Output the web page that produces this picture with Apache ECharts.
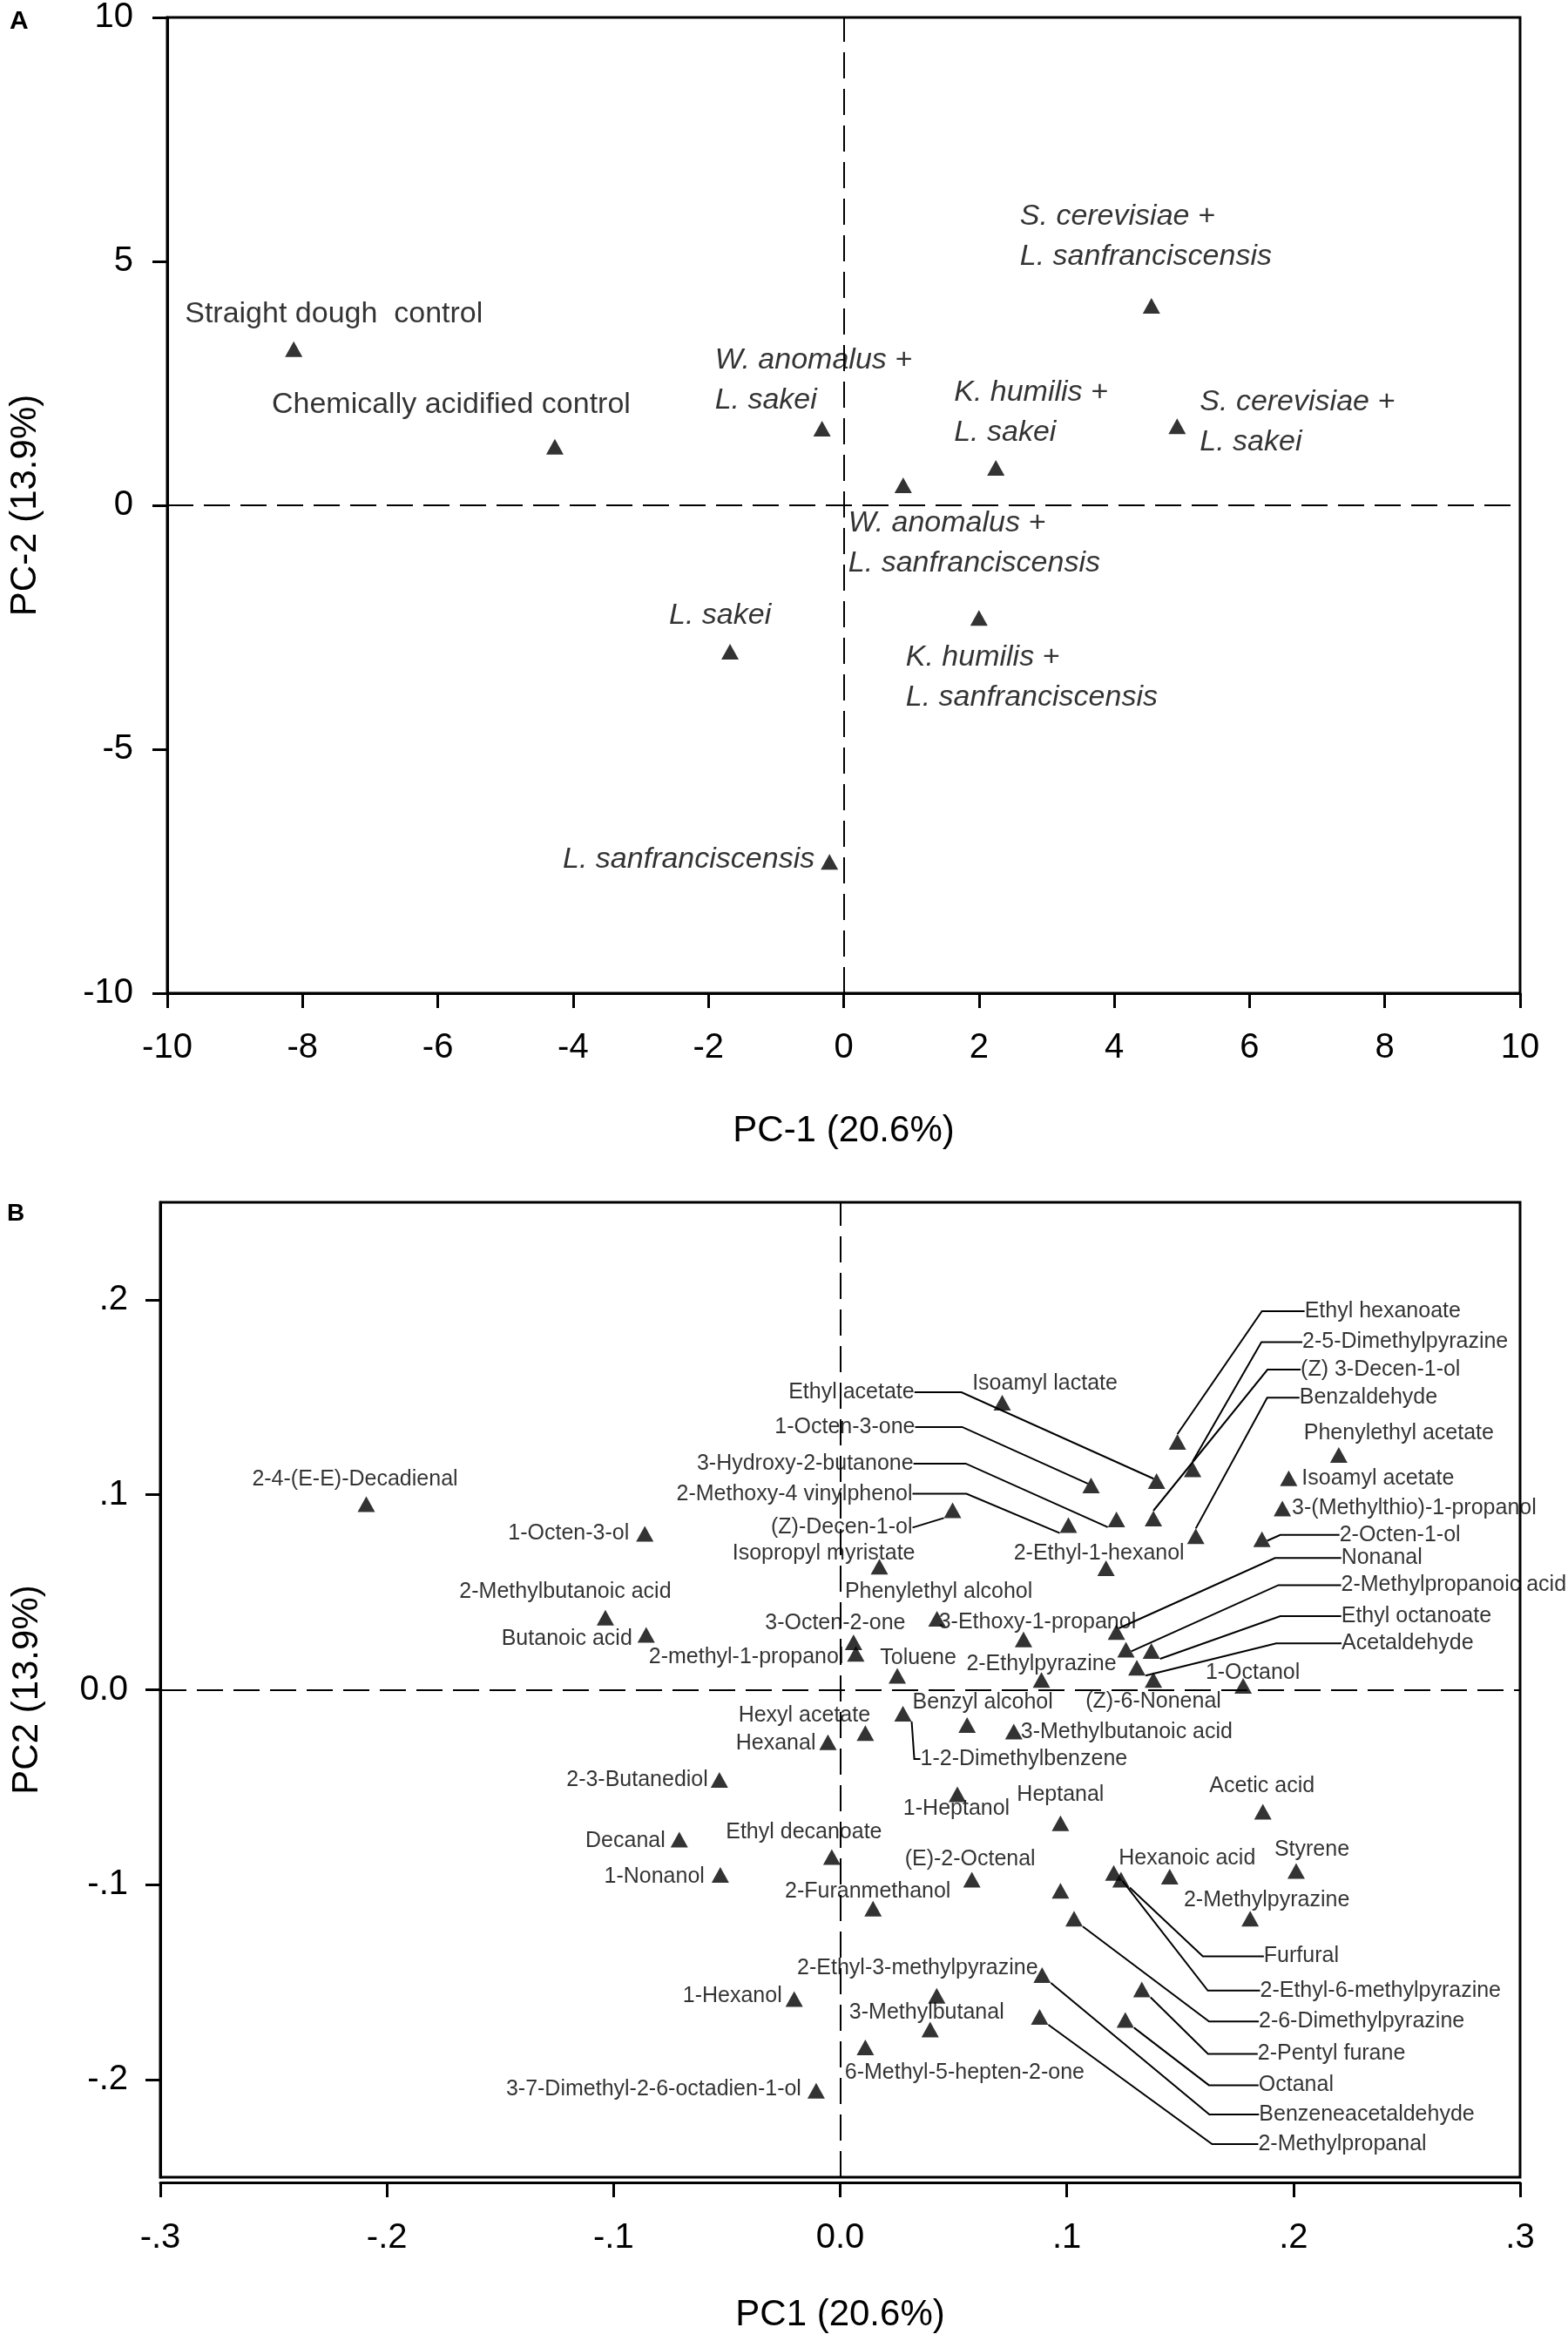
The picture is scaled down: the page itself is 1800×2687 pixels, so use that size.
<!DOCTYPE html>
<html>
<head>
<meta charset="utf-8">
<script src="https://cdn.jsdelivr.net/npm/echarts@6/dist/echarts.min.js"></script>
<style>
html, body { margin: 0; padding: 0; background: #fff; }
#chart { width: 1800px; height: 2687px; }
</style>
</head>
<body>
<div id="chart"></div>
<script>
var FONT = 'Liberation Sans, Arial, sans-serif';

// ---- panel A: sample scores ----
var samplesA = ['Straight dough  control', 'Chemically acidified control',
  'W. anomalus +\nL. sakei', 'W. anomalus +\nL. sanfranciscensis', 'K. humilis +\nL. sakei',
  'S. cerevisiae +\nL. sanfranciscensis', 'S. cerevisiae +\nL. sakei', 'L. sakei',
  'K. humilis +\nL. sanfranciscensis', 'L. sanfranciscensis'];
var italicA = [false, false, true, true, true, true, true, true, true, true];
var pc1A = [-8.13, -4.27, -0.32, 0.88, 2.25, 4.55, 4.93, -1.68, 2.0, -0.21];
var pc2A = [3.2, 1.2, 1.57, 0.41, 0.77, 4.09, 1.62, -3.0, -2.31, -7.31];

// ---- panel B: compound loadings ----
var compoundsB = ['2-4-(E-E)-Decadienal', '1-Octen-3-ol', '2-Methylbutanoic acid', 'Butanoic acid',
  'Ethyl acetate', 'Isoamyl lactate', '1-Octen-3-one', '3-Hydroxy-2-butanone', '2-Methoxy-4 vinylphenol',
  '(Z)-Decen-1-ol', 'Isopropyl myristate', '2-Ethyl-1-hexanol', 'Phenylethyl alcohol', '3-Ethoxy-1-propanol',
  '3-Octen-2-one', '2-methyl-1-propanol', 'Toluene', '2-Ethylpyrazine', '(Z)-6-Nonenal', '1-Octanol',
  'Ethyl hexanoate', '2-5-Dimethylpyrazine', '(Z) 3-Decen-1-ol', 'Benzaldehyde', 'Phenylethyl acetate',
  'Isoamyl acetate', '3-(Methylthio)-1-propanol', '2-Octen-1-ol', 'Nonanal', '2-Methylpropanoic acid',
  'Ethyl octanoate', 'Acetaldehyde', 'Benzyl alcohol', '3-Methylbutanoic acid', 'Hexyl acetate', 'Hexanal',
  '1-2-Dimethylbenzene', '2-3-Butanediol', '1-Heptanol', 'Heptanal', 'Acetic acid', 'Decanal',
  'Ethyl decanoate', '1-Nonanol', '(E)-2-Octenal', '2-Furanmethanol', 'Hexanoic acid', 'Styrene',
  '2-Methylpyrazine', 'Furfural', '2-Ethyl-6-methylpyrazine', '2-6-Dimethylpyrazine', '2-Pentyl furane',
  'Octanal', 'Benzeneacetaldehyde', '2-Methylpropanal', '2-Ethyl-3-methylpyrazine', '1-Hexanol',
  '3-Methylbutanal', '6-Methyl-5-hepten-2-one', '3-7-Dimethyl-2-6-octadien-1-ol', ''];
var pc1B = [-0.2091, -0.0862, -0.1036, -0.0856,
  0.1396, 0.0715, 0.1107, 0.1219, 0.1007,
  0.0496, 0.0173, 0.1173, 0.0427, 0.0809,
  0.0059, 0.0069, 0.0252, 0.0888, 0.1382, 0.1778,
  0.1488, 0.1555, 0.1382, 0.1569, 0.2200,
  0.1979, 0.1951, 0.1861, 0.1219, 0.1261,
  0.1373, 0.1309, 0.0560, 0.0766, 0.0111, -0.0054,
  0.0277, -0.0533, 0.0517, 0.0972, 0.1865, -0.0710,
  -0.0037, -0.0529, 0.0581, 0.0145, 0.1454, 0.2012,
  0.1809, 0.1239, 0.1207, 0.1032, 0.1331,
  0.1258, 0.0891, 0.0880, 0.0426, -0.0203,
  0.0397, 0.0111, -0.0106, 0.0972];
var pc2B = [0.0952, 0.0800, 0.0370, 0.0282,
  0.1070, 0.1472, 0.1048, 0.0874, 0.0844,
  0.0921, 0.0631, 0.0623, 0.0364, 0.0258,
  0.0244, 0.0184, 0.0072, 0.0050, 0.0050, 0.0020,
  0.1271, 0.1130, 0.0878, 0.0787, 0.1204,
  0.1085, 0.0929, 0.0772, 0.0296, 0.0206,
  0.0199, 0.0113, -0.0181, -0.0214, -0.0222, -0.0269,
  -0.0123, -0.0462, -0.0536, -0.0685, -0.0626, -0.0768,
  -0.0858, -0.0950, -0.0974, -0.1123, -0.0959, -0.0929,
  -0.1174, -0.0974, -0.0940, -0.1174, -0.1537,
  -0.1693, -0.1463, -0.1678, -0.1569, -0.1586,
  -0.1743, -0.1834, -0.2057, -0.1031];

var tickB = [-0.2, -0.1, 0, 0.1, 0.2];

// label placement (layout only): [align, dx, dy, leader length]
var placeA = [['left', -125, -40], ['left', -325, -48], ['left', -123, -56], ['left', -63, 67],
  ['left', -48, -63], ['left', -151, -79], ['left', 26, -5], ['left', -70, -41],
  ['left', -84, 68], ['right', -17, -3]];
var placeB = [['center', -13, -28], ['right', -18, 0], ['center', -46, -30], ['right', -16, 5],
  ['right', -278, -102, 54], ['center', 49, -22], ['right', -202, -67, 54], ['right', -233, -64, 60],
  ['right', -179, -36, 62], ['right', -46, 20, 0], ['right', 41, -15], ['center', -8, -17],
  ['center', 2, -31], ['center', 16, -20], ['center', -21, -22], ['right', -14, 4],
  ['center', 24, -20], ['center', 0, -18], ['center', 0, 25], ['center', 11, -15],
  ['left', 146, -150, 49], ['left', 126, -146, 47], ['left', 169, -171, 38], ['left', 119, -159, 37],
  ['center', 69, -25], ['left', 15, 0], ['left', 11, 0], ['left', 89, -5, 68],
  ['left', 258, -85, 76], ['left', 247, -74, 72], ['left', 218, -40, 70], ['left', 235, -28, 75],
  ['center', 18, -26], ['left', 8, 1], ['center', -70, -20], ['right', -14, 1],
  ['left', 20, 52, 7], ['right', -13, 0], ['center', -1, 17], ['center', 0, -33],
  ['center', -1, -29], ['right', -16, 2], ['center', -32, -28], ['right', -18, 2],
  ['center', -2, -23], ['center', -6, -20], ['center', 20, -21], ['center', 18, -24],
  ['center', 19, -21], ['left', 164, 88, 70], ['left', 168, 135, 60], ['left', 212, 118, 57],
  ['left', 133, 74, 57], ['left', 153, 75, 57], ['left', 249, 160, 57], ['left', 251, 146, 53],
  ['center', -22, -32], ['right', -14, -3], ['center', -4, -19], ['center', 114, 29],
  ['right', -17, -2], ['center', 0, 0]];

var dataA = samplesA.map(function (name, i) {
  return {name: name, value: [pc1A[i], pc2A[i]], label: {fontStyle: italicA[i] ? 'italic' : 'normal'}};
});
var dataB = compoundsB.map(function (name, i) {
  var item = {name: name, value: [pc1B[i], pc2B[i]]};
  if (placeB[i][3] != null) item.labelLine = {show: true, length2: placeB[i][3]};
  return item;
});

function placer(place) {
  return function (params) {
    var p = place[params.dataIndex];
    var r = params.rect;
    return {x: r.x + r.width / 2 + p[1], y: r.y + r.height / 2 + p[2], align: p[0], verticalAlign: 'middle'};
  };
}

function fmtB(v) {
  var n = Math.round(v * 10);
  if (n === 0) return '0.0';
  return (n < 0 ? '-' : '') + '.' + Math.abs(n);
}

function axis(extra) {
  var base = {
    axisLine: {onZero: false, lineStyle: {color: '#000', width: 3}},
    axisTick: {length: 17, lineStyle: {color: '#000', width: 3}},
    splitLine: {show: false},
    axisLabel: {color: '#000', fontSize: 40, fontFamily: FONT},
    nameLocation: 'middle',
    nameTextStyle: {color: '#000', fontSize: 42, fontFamily: FONT}
  };
  for (var k in extra) {
    if (typeof extra[k] === 'object' && base[k] && !Array.isArray(extra[k])) {
      base[k] = Object.assign({}, base[k], extra[k]);
    } else {
      base[k] = extra[k];
    }
  }
  return base;
}

var zeroLines = {
  silent: true, symbol: 'none', animation: false,
  label: {show: false},
  lineStyle: {color: '#000', width: 2, type: [30, 12]},
  emphasis: {disabled: true},
  data: [{xAxis: 0}, {yAxis: 0}]
};

var chart = echarts.init(document.getElementById('chart'));

var option = {
  animation: false,
  backgroundColor: '#fff',
  title: [
    {text: 'A', left: 11, top: 10, padding: 0, textStyle: {fontSize: 30, fontWeight: 'bold', color: '#000', fontFamily: FONT}},
    {text: 'B', left: 8, top: 1379, padding: 0, textStyle: {fontSize: 28, fontWeight: 'bold', color: '#000', fontFamily: FONT}}
  ],
  grid: [
    {left: 184, top: 18, width: 1561, height: 1122, show: true, borderColor: '#000', borderWidth: 3},
    {left: 184, top: 1380, width: 1561, height: 1119, show: true, borderColor: '#000', borderWidth: 3}
  ],
  xAxis: [
    axis({gridIndex: 0, type: 'value', min: -10, max: 10, interval: 2,
      name: 'PC-1 (20.6%)', nameGap: 137, axisLabel: {margin: 43}}),
    axis({gridIndex: 1, type: 'value', min: -0.3, max: 0.3, interval: 0.1, offset: 6,
      name: 'PC1 (20.6%)', nameGap: 131, axisLabel: {margin: 44, formatter: fmtB}})
  ],
  yAxis: [
    axis({gridIndex: 0, type: 'value', min: -10, max: 10, interval: 5,
      name: 'PC-2 (13.9%)', nameGap: 142, axisLabel: {margin: 39}}),
    axis({gridIndex: 1, type: 'value', min: -0.25, max: 0.25,
      name: 'PC2 (13.9%)', nameGap: 132,
      axisLabel: {margin: 37, formatter: fmtB, customValues: tickB},
      axisTick: {customValues: tickB}})
  ],
  series: [
    {
      type: 'scatter', xAxisIndex: 0, yAxisIndex: 0,
      symbol: 'triangle', symbolSize: [20, 18],
      itemStyle: {color: '#000'},
      label: {show: true, formatter: '{b}', color: '#000', fontSize: 34, lineHeight: 46, fontFamily: FONT},
      labelLayout: placer(placeA),
      markLine: zeroLines,
      data: dataA
    },
    {
      type: 'scatter', xAxisIndex: 1, yAxisIndex: 1,
      symbol: 'triangle', symbolSize: [20, 18],
      itemStyle: {color: '#000'},
      label: {show: true, formatter: '{b}', color: '#000', fontSize: 25, fontFamily: FONT},
      labelLine: {show: false, lineStyle: {color: '#000', width: 2}},
      labelLayout: placer(placeB),
      markLine: zeroLines,
      data: dataB
    }
  ]
};

chart.setOption(option);
</script>
</body>
</html>
